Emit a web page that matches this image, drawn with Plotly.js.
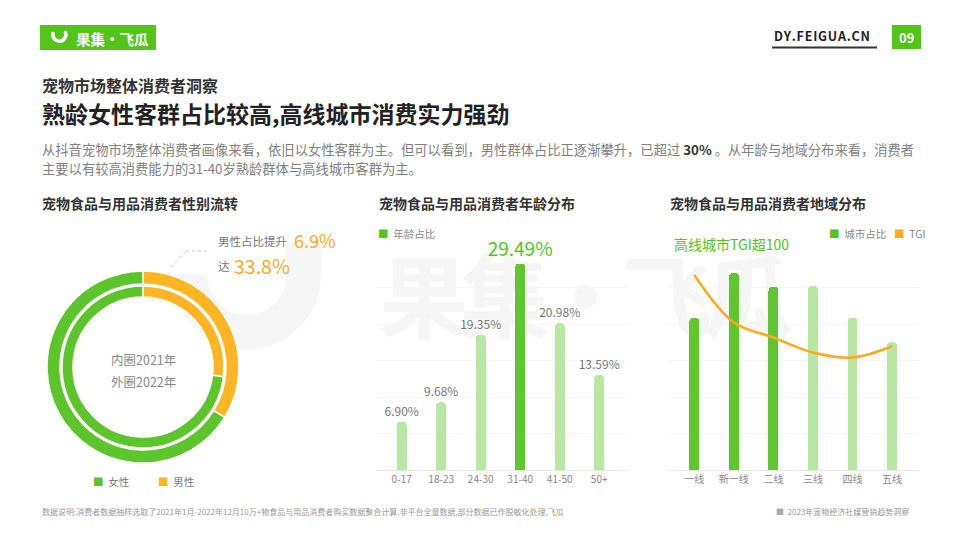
<!DOCTYPE html>
<html><head><meta charset="utf-8">
<script src="https://cdn.plot.ly/plotly-3.0.1.min.js"></script>
<style>html,body{margin:0;padding:0;background:#fff}#chart{width:960px;height:540px}</style>
</head><body><div id="chart"></div>
<script>
// ---- data ----
const genderLabels = ['男性', '女性'];
const gender2021 = [26.9, 73.1];   // inner ring
const gender2022 = [33.8, 66.2];   // outer ring
const ageGroups = ['0-17', '18-23', '24-30', '31-40', '41-50', '50+'];
const ageShare = [6.90, 9.68, 19.35, 29.49, 20.98, 13.59];
const cityTiers = ['一线', '新一线', '二线', '三线', '四线', '五线'];
const cityShare = [15.2, 19.7, 18.3, 18.4, 15.2, 12.8];
const cityTGI = [156, 118, 106, 94, 90, 99];

// ---- styling ----
const W = 960, H = 540;
const F = 'Noto Sans CJK SC, Noto Sans, sans-serif';
const GREEN = '#52c41a', GREEN_BAR = '#5fc530', GREEN_LIGHT = '#b8e6a3';
const ORANGE = '#ffa91f', ORANGE_PIE = '#fdb524', GREEN_PIE = '#5cc52b';
const px = x => x / W, py = y => 1 - y / H;

function T(text, x, y, size, color, anchor, bold) {
  return {text: bold ? '<b>' + text + '</b>' : text, x: px(x), y: py(y), xref: 'paper', yref: 'paper',
    xanchor: anchor || 'left', yanchor: 'middle', showarrow: false,
    font: {family: F, size: size, color: color}};
}
function R(x0, y0, x1, y1, color) {
  return {type: 'rect', xref: 'paper', yref: 'paper', x0: px(x0), x1: px(x1), y0: py(y1), y1: py(y0),
    fillcolor: color, line: {width: 0}, layer: 'below'};
}
function L(x0, y0, x1, y1, color, width, dash) {
  return {type: 'line', xref: 'paper', yref: 'paper', x0: px(x0), x1: px(x1), y0: py(y0), y1: py(y1),
    line: {color: color, width: width, dash: dash || 'solid'}};
}

// ---- traces ----
const pieDomain = r => ({x: [px(143 - r), px(143 + r)], y: [py(367 + r), py(367 - r)]});
const outerPie = {type: 'pie', labels: genderLabels, values: gender2022, hole: 0.865, sort: false,
  direction: 'clockwise', rotation: 0, textinfo: 'none', hoverinfo: 'none', domain: pieDomain(96),
  marker: {colors: [ORANGE_PIE, GREEN_PIE], line: {color: '#fff', width: 1.5}}};
const innerPie = {type: 'pie', labels: genderLabels, values: gender2021, hole: 0.864, sort: false,
  direction: 'clockwise', rotation: 0, textinfo: 'none', hoverinfo: 'none', domain: pieDomain(81),
  marker: {colors: [ORANGE_PIE, GREEN_PIE], line: {color: '#fff', width: 1.5}}};

const maxAgeIdx = ageShare.indexOf(Math.max(...ageShare));
const ageBars = {type: 'bar', x: ageGroups, y: ageShare, xaxis: 'x', yaxis: 'y', width: 0.25,
  marker: {color: ageShare.map((v, i) => i === maxAgeIdx ? GREEN_BAR : GREEN_LIGHT), cornerradius: '50%'},
  text: ageShare.map(v => v.toFixed(2) + '%'), textposition: 'outside', cliponaxis: false, constraintext: 'none',
  textfont: {family: F, size: ageShare.map((v, i) => i === maxAgeIdx ? 19 : 12),
    color: ageShare.map((v, i) => i === maxAgeIdx ? GREEN : '#777')}, hoverinfo: 'none'};

const cityBars = {type: 'bar', x: cityTiers, y: cityShare, xaxis: 'x2', yaxis: 'y2', width: 0.25,
  marker: {color: cityTiers.map((c, i) => i < 3 ? GREEN_BAR : GREEN_LIGHT), cornerradius: '50%'}, hoverinfo: 'none'};
const tgiLine = {type: 'scatter', mode: 'lines', x: cityTiers, y: cityTGI, xaxis: 'x2', yaxis: 'y3',
  line: {color: ORANGE, width: 2.5, shape: 'spline', smoothing: 1}, hoverinfo: 'none', cliponaxis: false};

// ---- watermark & logo icon ----
const wm = "<svg xmlns='http://www.w3.org/2000/svg' width='960' height='540' viewBox='0 0 960 540'>" +
  "<path d='M 304 243 L 304 275 A 57 57 0 0 1 190 275' fill='none' stroke='#f6f6f6' stroke-width='34'/>" +
  "<text x='379' y='331' font-family='Noto Sans CJK SC' font-weight='700' font-size='90' fill='#f6f6f6' textLength='414' lengthAdjust='spacing'>果集·飞瓜</text></svg>";
const icon = "<svg xmlns='http://www.w3.org/2000/svg' width='960' height='540' viewBox='0 0 960 540'>" +
  "<path d='M 53 33.5 A 6.5 6.5 0 1 0 65.5 32.5' fill='none' stroke='#fff' stroke-width='3.6' stroke-linecap='round'/></svg>";
const svgUri = s => 'data:image/svg+xml;charset=utf-8,' + encodeURIComponent(s);
const fullImg = (s, layer) => ({source: svgUri(s), xref: 'paper', yref: 'paper', x: 0, y: 1, sizex: 1, sizey: 1,
  xanchor: 'left', yanchor: 'top', sizing: 'stretch', layer: layer});

const plotTop = 251, plotBot = 470;
const yDom = [py(plotBot), py(plotTop)];
const axBase = {type: 'category', showgrid: false, showline: true, linecolor: '#e8e8e8', linewidth: 1,
  ticks: '', tickfont: {family: F, size: 10, color: '#888'}, fixedrange: true, zeroline: false};
const yBase = {showticklabels: false, ticks: '', showgrid: true, gridcolor: '#f6f6f6', zeroline: false,
  showline: false, fixedrange: true};
const hs = '\u200A';

const layout = {
  width: W, height: H, margin: {l: 0, r: 0, t: 0, b: 0}, paper_bgcolor: '#fff', plot_bgcolor: 'rgba(0,0,0,0)',
  showlegend: false, bargap: 0, barcornerradius: '50%',
  xaxis: Object.assign({}, axBase, {domain: [px(376), px(628)], anchor: 'y', range: [-0.65, 5.73]}),
  yaxis: Object.assign({}, yBase, {domain: yDom, anchor: 'x', range: [0, 31.3], dtick: 31.3 / 6}),
  xaxis2: Object.assign({}, axBase, {domain: [px(668), px(919)], anchor: 'y2', range: [-0.665, 5.68]}),
  yaxis2: Object.assign({}, yBase, {domain: yDom, anchor: 'x2', range: [0, 21.9], dtick: 21.9 / 6}),
  yaxis3: {overlaying: 'y2', anchor: 'x2', range: [0, 175.2], visible: false, fixedrange: true},
  images: [fullImg(wm, 'below'), fullImg(icon, 'above')],
  shapes: [
    R(40, 25, 156, 50, GREEN),
    R(892, 25, 921, 49, GREEN),
    L(772, 47.5, 877, 47.5, '#333', 2),
    L(171, 267, 186, 251, '#ccc', 1, 'dot'),
    L(186, 251, 209, 251, '#ccc', 1, 'dot')
  ],
  annotations: [
    T('果集·飞瓜', 74, 38, 14.5, '#fff', 'left', true),
    T('DY.FEIGUA.CN'.split('').join(hs), 772, 36, 12.5, '#222', 'left', true),
    T('09', 906.5, 37.5, 13, '#fff', 'center', true),
    T('宠物市场整体消费者洞察', 40, 85, 16, '#333', 'left', true),
    T('熟龄女性客群占比较高,高线城市消费实力强劲', 40, 113, 23, '#222', 'left', true),
    T('从抖音宠物市场整体消费者画像来看，依旧以女性客群为主。但可以看到，男性群体占比正逐渐攀升，已超过 <span style="color:#333"><b>30%</b></span> 。从年龄与地域分布来看，消费者', 40, 149, 13.3, '#808080'),
    T('主要以有较高消费能力的31-40岁熟龄群体与高线城市客群为主。', 40, 168, 13.3, '#808080'),
    T('宠物食品与用品消费者性别流转', 40, 203, 14, '#333', 'left', true),
    T('宠物食品与用品消费者年龄分布', 377, 203, 14, '#333', 'left', true),
    T('宠物食品与用品消费者地域分布', 668, 203, 14, '#333', 'left', true),
    T('男性占比提升', 216, 241, 11.5, '#777'),
    T('6.9%', 292, 240, 18, ORANGE),
    T('达', 216, 266, 11.5, '#777'),
    T('33.8%', 232, 265, 19.5, ORANGE),
    T('内圈2021年', 143, 359, 12.5, '#888', 'center'),
    T('外圈2022年', 143, 381, 12.5, '#888', 'center'),
    T('<span style="color:' + GREEN_PIE + '">■</span>  女性', 91, 481, 10.5, '#777'),
    T('<span style="color:' + ORANGE_PIE + '">■</span>  男性', 156, 481, 10.5, '#777'),
    T('<span style="color:' + GREEN + '">■</span>  年龄占比', 376, 233, 10.5, '#888'),
    T('<span style="color:' + GREEN + '">■</span>  城市占比', 827, 233, 10.5, '#888'),
    T('<span style="color:' + ORANGE + '">■</span>  TGI', 892, 233, 10.5, '#888'),
    T('高线城市TGI超100', 672, 244, 14, GREEN),
    T('数据说明:消费者数据抽样选取了2021年1月-2022年12月10万+物食品与用品消费者购买数据聚合计算,非平台全量数据,部分数据已作脱敏化处理,飞瓜', 40, 511, 8, '#999'),
    T('<span style="color:#aaa">■</span>  2023年宠物经济社媒营销趋势洞察', 774, 511, 8, '#999')
  ]
};

Plotly.newPlot('chart', [ageBars, cityBars, tgiLine, outerPie, innerPie], layout,
  {displayModeBar: false, staticPlot: true});
</script></body></html>
